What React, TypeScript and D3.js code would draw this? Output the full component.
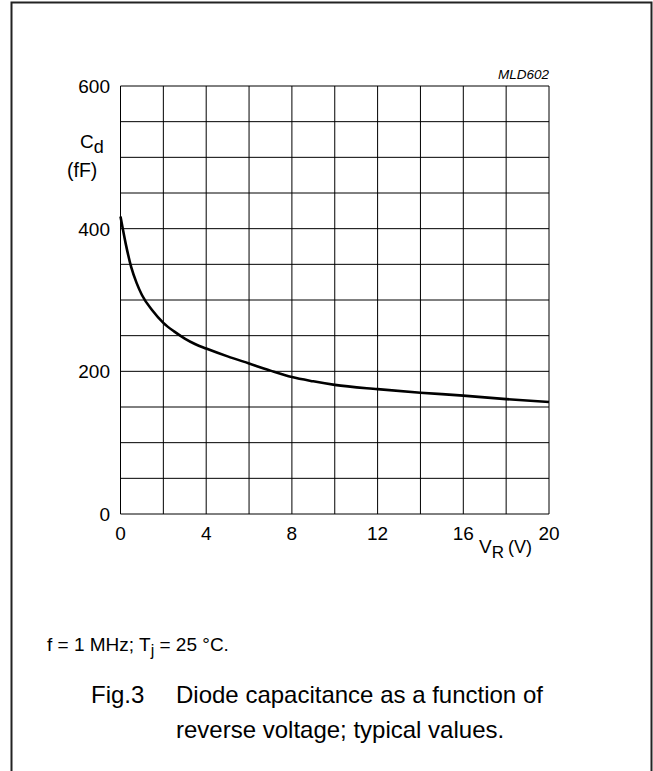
import React from "react";
import * as d3 from "d3";

const voltage = [0, 0.25, 0.5, 0.75, 1.0, 1.5, 2.0, 2.5, 3.0, 3.5, 4.0, 5.0, 6.0, 7.0, 8.0, 9.0, 10.0, 12.0, 14.0, 16.0, 18.0, 20.0];
const capacitance = [417, 378, 346, 324, 307, 285, 268, 256, 246, 238, 232, 221, 211, 201, 192, 186, 181, 175, 170, 166, 161, 157];
const xTickLabels = [0, 4, 8, 12, 16, 20];
const yTickLabels = [0, 200, 400, 600];
const xGrid = d3.range(0, 21, 2);
const yGrid = d3.range(0, 601, 50);

const FONT = "'Liberation Sans', Arial, sans-serif";

export default function App() {
  const W = 653, H = 771;
  const x = d3.scaleLinear().domain([0, 20]).range([120.5, 549]);
  const y = d3.scaleLinear().domain([0, 600]).range([514, 86]);
  const line = d3.line<number>()
    .x((_, i) => x(voltage[i]))
    .y((d) => y(d))
    .curve(d3.curveMonotoneX);

  return (
    <svg width={W} height={H} style={{ position: "absolute", left: 0, top: 0 }} fontFamily={FONT}>
      <rect x={0} y={0} width={W} height={H} fill="#fff" />
      <path d={`M11.5,${H} V2.5 H651.5 V${H}`} fill="none" stroke="#222" strokeWidth={2} />
      {xGrid.map((v) => (
        <line key={"x" + v} x1={x(v)} x2={x(v)} y1={y(0)} y2={y(600)} stroke="#000" strokeWidth={1} />
      ))}
      {yGrid.map((v) => (
        <line key={"y" + v} x1={x(0)} x2={x(20)} y1={y(v)} y2={y(v)} stroke="#000" strokeWidth={1} />
      ))}
      <path d={line(capacitance) || ""} fill="none" stroke="#000" strokeWidth={2.6} strokeLinejoin="round" />
      {yTickLabels.map((v) => (
        <text key={"yl" + v} x={110} y={y(v) + 7} textAnchor="end" fontSize={19}>{v}</text>
      ))}
      {xTickLabels.map((v) => (
        <text key={"xl" + v} x={x(v)} y={540} textAnchor="middle" fontSize={19}>{v}</text>
      ))}
      <text x={549} y={79} textAnchor="end" fontSize={13.5} fontStyle="italic">MLD602</text>
      <text x={80} y={148} fontSize={19}>C<tspan fontSize={18} dy={5}>d</tspan></text>
      <text x={67} y={177} fontSize={19.5}>(fF)</text>
      <text x={479} y={553} fontSize={19}>V<tspan fontSize={17} dy={5}>R</tspan><tspan fontSize={18} dy={-5} dx={4}>(V)</tspan></text>
      <text x={47} y={651} fontSize={19}>f = 1 MHz; T<tspan fontSize={16} dy={5}>j</tspan><tspan dy={-5}> = 25 °C.</tspan></text>
      <text x={91} y={703} fontSize={24}>Fig.3</text>
      <text x={176} y={703} fontSize={24}>Diode capacitance as a function of</text>
      <text x={176} y={738} fontSize={24}>reverse voltage; typical values.</text>
    </svg>
  );
}
